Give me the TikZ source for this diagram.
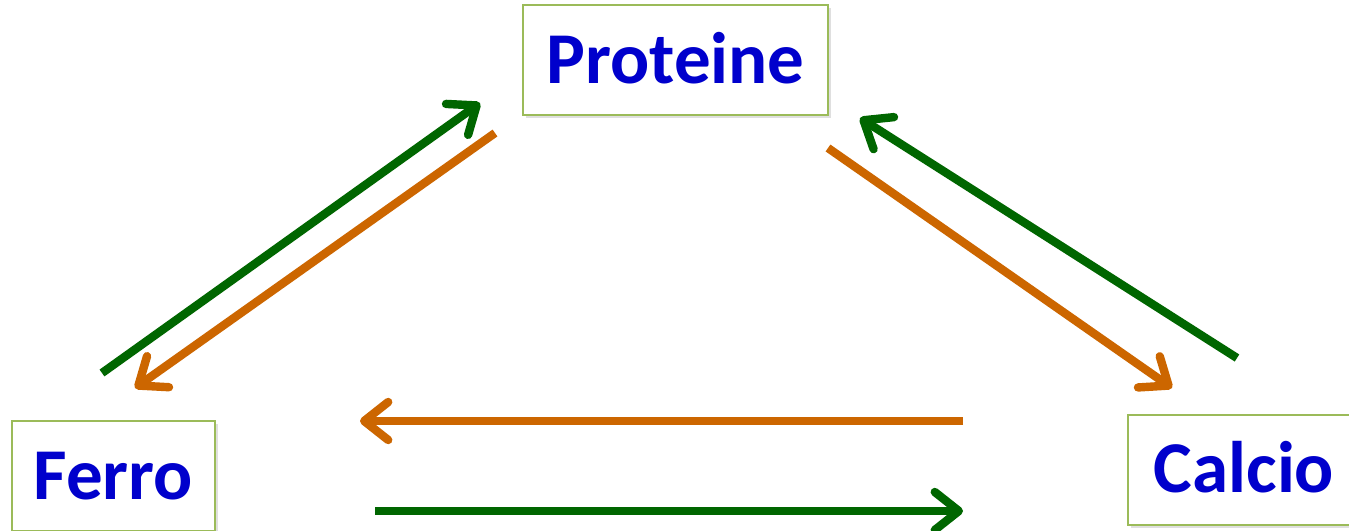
\documentclass[tikz,border=0pt]{standalone}
\usepackage{fontspec}
\setmainfont{Carlito}
\usetikzlibrary{arrows.meta,shadows}

\definecolor{boxline}{HTML}{9BBB59}
\definecolor{textblue}{HTML}{0000CC}
\definecolor{arrowgreen}{HTML}{006600}
\definecolor{arroworange}{HTML}{CC6600}

\begin{document}
\begin{tikzpicture}[x=0.5pt, y=-0.5pt,
  >={Straight Barb[length=12pt,width=19pt,round]},
  nutrient/.style={draw=boxline, line width=1pt, fill=white, text=textblue,
    font=\fontsize{36.5}{40}\selectfont\bfseries,
    minimum height=55pt, text height=23pt, text depth=0pt,
    drop shadow={shadow xshift=1.5pt, shadow yshift=-1.5pt, opacity=0.25}},
  gain/.style={->, draw=arrowgreen, line width=4.2pt},
  loss/.style={->, draw=arroworange, line width=4.2pt}]

\useasboundingbox (0,0) rectangle (1349,530);

% The three boxes
\node [nutrient, minimum width=152.5pt] (proteine) at (675.5,60) {Proteine};
\node [nutrient, minimum width=101.5pt] (ferro) at (113.5,476) {Ferro};
\node [nutrient, minimum width=116pt] (calcio) at (1244,469.5) {Calcio};

% Free ends of the arrows
\coordinate (fp-start) at (102,373);
\coordinate (fp-end) at (480,103);
\coordinate (pf-start) at (495,133);
\coordinate (pf-end) at (135,388);
\coordinate (pc-start) at (828,148);
\coordinate (pc-end) at (1172,388);
\coordinate (cp-start) at (1237,358);
\coordinate (cp-end) at (860,118);
\coordinate (cf-start) at (963,421);
\coordinate (cf-end) at (360,421);
\coordinate (fc-start) at (375,511);
\coordinate (fc-end) at (963,511);

% Green and orange arrows between the boxes
\foreach \from/\to in {fp-start/fp-end, cp-start/cp-end, fc-start/fc-end} {
  \draw [gain] (\from) -- (\to);
}
\foreach \from/\to in {pf-start/pf-end, pc-start/pc-end, cf-start/cf-end} {
  \draw [loss] (\from) -- (\to);
}
\end{tikzpicture}
\end{document}
